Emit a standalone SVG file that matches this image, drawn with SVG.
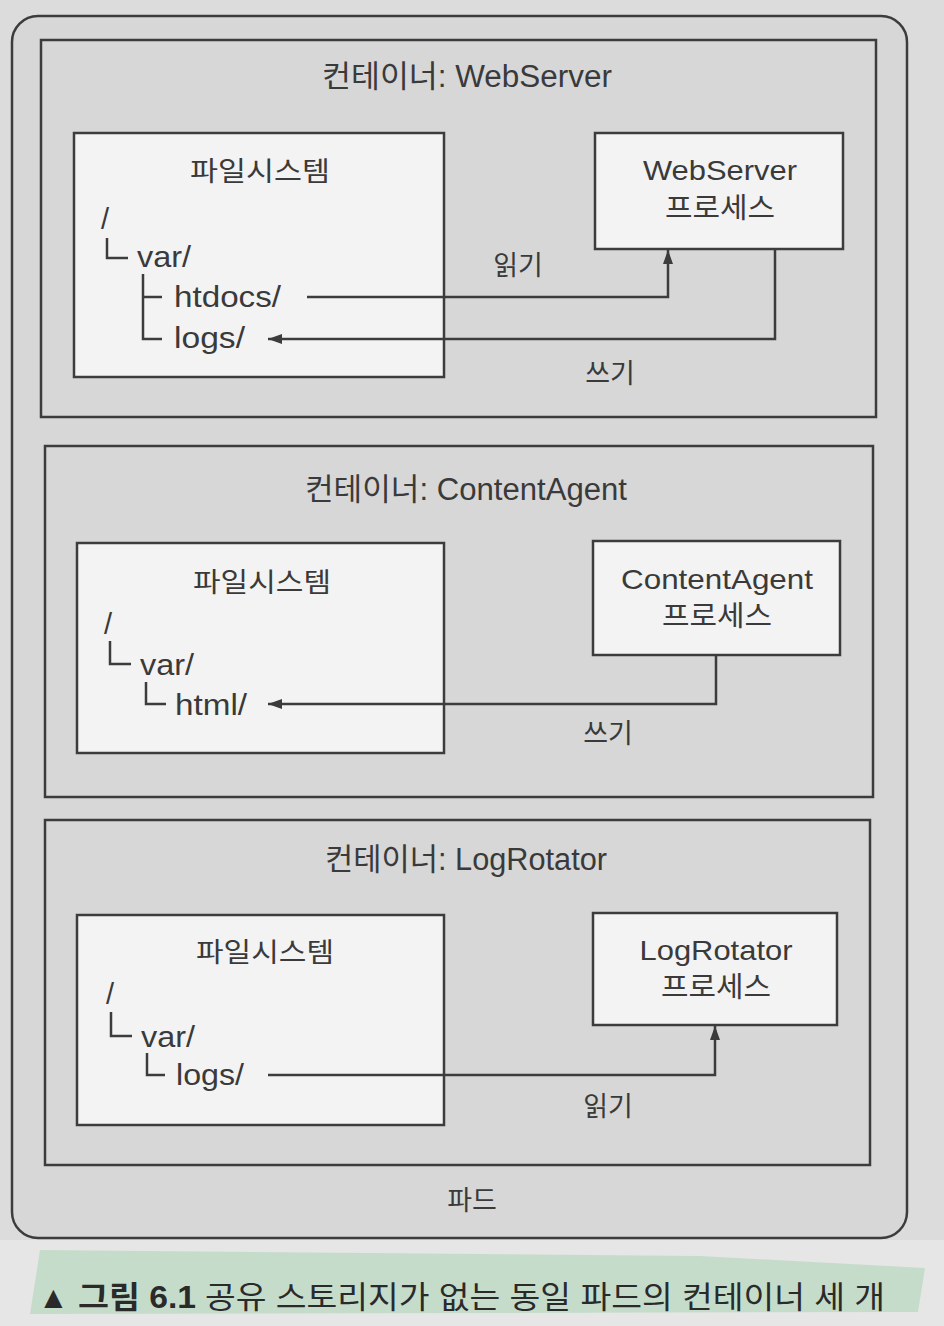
<svg xmlns="http://www.w3.org/2000/svg" width="944" height="1326" viewBox="0 0 944 1326">
<defs>
<marker id="ah" markerWidth="14" markerHeight="10" refX="14" refY="5" orient="auto" markerUnits="userSpaceOnUse"><path d="M0,0 L14,5 L0,10 Z" fill="#3c3c3c"/></marker>
<style>
.t{font-family:'Liberation Sans','Noto Sans CJK KR',sans-serif;fill:#3a3a3a;}
.title{font-size:31px;}
.fs{font-size:27px;}
.tree{font-size:29px;}
.proc{font-size:28px;}
.lbl{font-size:27px;}
.cap{font-size:31px;fill:#2a2a2a;}
.box{fill:#f3f3f3;stroke:#3c3c3c;stroke-width:2.5;}
.cont{fill:none;stroke:#3c3c3c;stroke-width:2.5;}
.ln{fill:none;stroke:#3c3c3c;stroke-width:2.5;}
.conn{fill:none;stroke:#3c3c3c;stroke-width:2.5;}
</style>
</defs>
<rect x="0" y="0" width="944" height="1326" fill="#dcdcdc"/>
<rect x="0" y="1240" width="944" height="86" fill="#e6e6e6"/>

<g id="pod">
<rect x="12" y="16" width="895" height="1222" rx="26" ry="26" fill="#d7d7d7" stroke="#3c3c3c" stroke-width="2.5"/>
<text class="t lbl" x="472" y="1210" text-anchor="middle">파드</text>
</g>

<!-- Container 1 -->
<g id="container-webserver">
<rect class="cont" x="41" y="40" width="835" height="377"/>
<text class="t title" x="467" y="87" text-anchor="middle" textLength="290" lengthAdjust="spacingAndGlyphs">컨테이너: WebServer</text>
</g>
<g id="fs-webserver">
<rect class="box" x="74" y="133" width="370" height="244"/>
<text class="t fs" x="260" y="181" text-anchor="middle" textLength="140" lengthAdjust="spacingAndGlyphs">파일시스템</text>
<text class="t tree" x="101" y="229">/</text>
<path class="ln" d="M107,238 V258 H128"/>
<text class="t tree" x="137" y="267" textLength="54" lengthAdjust="spacingAndGlyphs">var/</text>
<path class="ln" d="M143,274 V339 H162 M143,297 H162"/>
<text class="t tree" x="174" y="307" textLength="107" lengthAdjust="spacingAndGlyphs">htdocs/</text>
<text class="t tree" x="174" y="348" textLength="71" lengthAdjust="spacingAndGlyphs">logs/</text>
</g>
<g id="proc-webserver">
<rect class="box" x="595" y="133" width="248" height="116"/>
<text class="t proc" x="720" y="180" text-anchor="middle" textLength="154" lengthAdjust="spacingAndGlyphs">WebServer</text>
<text class="t proc" x="720" y="218" text-anchor="middle" textLength="110" lengthAdjust="spacingAndGlyphs">프로세스</text>
</g>

<!-- Container 2 -->
<g id="container-contentagent">
<rect class="cont" x="45" y="446" width="828" height="351"/>
<text class="t title" x="466" y="500" text-anchor="middle" textLength="322" lengthAdjust="spacingAndGlyphs">컨테이너: ContentAgent</text>
</g>
<g id="fs-contentagent">
<rect class="box" x="77" y="543" width="367" height="210"/>
<text class="t fs" x="262" y="592" text-anchor="middle" textLength="138" lengthAdjust="spacingAndGlyphs">파일시스템</text>
<text class="t tree" x="104" y="634">/</text>
<path class="ln" d="M110,641 V664 H131"/>
<text class="t tree" x="140" y="675" textLength="54" lengthAdjust="spacingAndGlyphs">var/</text>
<path class="ln" d="M146,682 V704 H166"/>
<text class="t tree" x="175" y="715" textLength="72" lengthAdjust="spacingAndGlyphs">html/</text>
</g>
<g id="proc-contentagent">
<rect class="box" x="593" y="541" width="247" height="114"/>
<text class="t proc" x="717" y="589" text-anchor="middle" textLength="192" lengthAdjust="spacingAndGlyphs">ContentAgent</text>
<text class="t proc" x="717" y="626" text-anchor="middle" textLength="110" lengthAdjust="spacingAndGlyphs">프로세스</text>
</g>

<!-- Container 3 -->
<g id="container-logrotator">
<rect class="cont" x="45" y="820" width="825" height="345"/>
<text class="t title" x="466" y="870" text-anchor="middle" textLength="282" lengthAdjust="spacingAndGlyphs">컨테이너: LogRotator</text>
</g>
<g id="fs-logrotator">
<rect class="box" x="77" y="915" width="367" height="210"/>
<text class="t fs" x="265" y="962" text-anchor="middle" textLength="138" lengthAdjust="spacingAndGlyphs">파일시스템</text>
<text class="t tree" x="106" y="1004">/</text>
<path class="ln" d="M111,1012 V1036 H132"/>
<text class="t tree" x="141" y="1047" textLength="54" lengthAdjust="spacingAndGlyphs">var/</text>
<path class="ln" d="M147,1053 V1075 H165"/>
<text class="t tree" x="176" y="1085" textLength="68" lengthAdjust="spacingAndGlyphs">logs/</text>
</g>
<g id="proc-logrotator">
<rect class="box" x="593" y="913" width="244" height="112"/>
<text class="t proc" x="716" y="960" text-anchor="middle" textLength="153" lengthAdjust="spacingAndGlyphs">LogRotator</text>
<text class="t proc" x="716" y="997" text-anchor="middle" textLength="110" lengthAdjust="spacingAndGlyphs">프로세스</text>
</g>

<!-- Connectors -->
<g id="connectors">
<path class="conn" d="M307,297 H668 V250" marker-end="url(#ah)"/>
<path class="conn" d="M775,249 V339 H268" marker-end="url(#ah)"/>
<path class="conn" d="M716,655 V704 H268" marker-end="url(#ah)"/>
<path class="conn" d="M268,1075 H715 V1026" marker-end="url(#ah)"/>
<text class="t lbl" x="518" y="275" text-anchor="middle">읽기</text>
<text class="t lbl" x="610" y="383" text-anchor="middle">쓰기</text>
<text class="t lbl" x="608" y="743" text-anchor="middle">쓰기</text>
<text class="t lbl" x="608" y="1116" text-anchor="middle">읽기</text>
</g>

<!-- Caption -->
<g id="caption">
<path d="M40,1250 L700,1256 L925,1268 L918,1312 L30,1314 Z" fill="#c6dccb"/>
<text class="t cap" x="38" y="1308" font-size="26">▲</text>
<text class="t cap" x="78" y="1308" font-weight="bold" textLength="118" lengthAdjust="spacingAndGlyphs">그림 6.1</text>
<text class="t cap" x="205" y="1308" textLength="680" lengthAdjust="spacingAndGlyphs">공유 스토리지가 없는 동일 파드의 컨테이너 세 개</text>
</g>
</svg>
